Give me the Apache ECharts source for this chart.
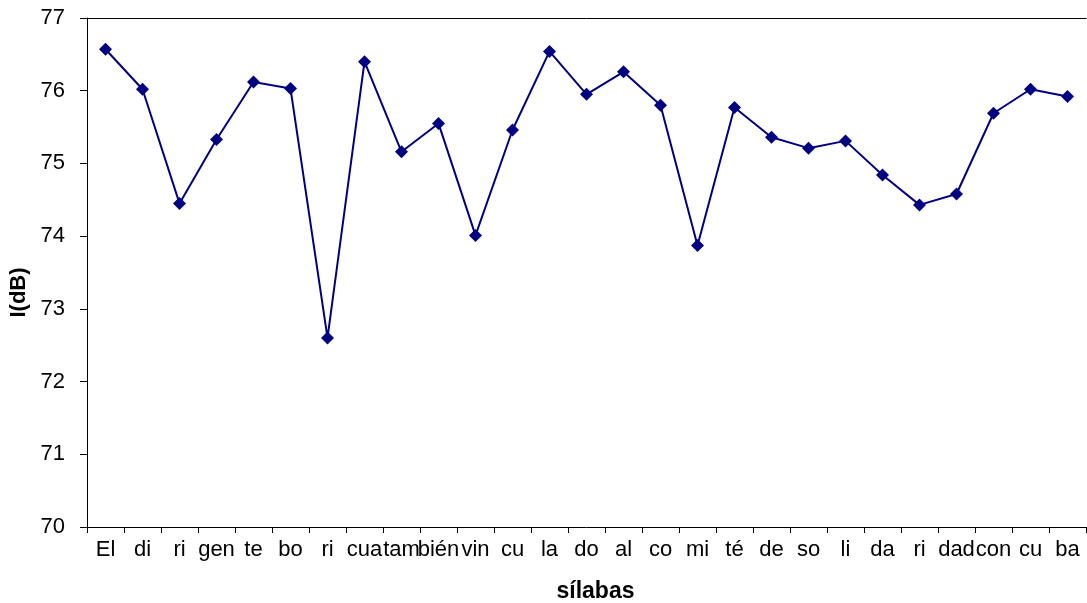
<!DOCTYPE html>
<html>
<head>
<meta charset="utf-8">
<script src="https://cdn.jsdelivr.net/npm/echarts@6.0.0/dist/echarts.min.js"></script>
<style>
  html, body { margin: 0; padding: 0; background: #fff; }
  #chart { width: 1087px; height: 603px; }
</style>
</head>
<body>
<div id="chart"></div>
<script>
// sílabas del enunciado
const silabas = ['El', 'di', 'ri', 'gen', 'te', 'bo', 'ri', 'cua', 'tam', 'bién', 'vin', 'cu', 'la', 'do',
  'al', 'co', 'mi', 'té', 'de', 'so', 'li', 'da', 'ri', 'dad', 'con', 'cu', 'ba'];

// intensidad en dB
const intensidad = [76.57, 76.02, 74.45, 75.33, 76.12, 76.03, 72.60, 76.40, 75.16, 75.55, 74.01, 75.46, 76.54, 75.95,
  76.26, 75.80, 73.87, 75.77, 75.36, 75.21, 75.31, 74.84, 74.43, 74.58, 75.69, 76.02, 75.92];

const yMin = 70;
const yMax = 77;

const chart = echarts.init(document.getElementById('chart'));

const axisLine = { show: true, lineStyle: { color: '#000', width: 1 } };
const font = 'Liberation Sans';

chart.setOption({
  animation: false,
  grid: { left: 87, right: 1, top: 18, bottom: 76, outerBoundsMode: 'none', containLabel: false },
  xAxis: [{
    type: 'category',
    data: silabas,
    boundaryGap: true,
    name: 'sílabas',
    nameLocation: 'middle',
    nameGap: 53,
    nameTextStyle: { fontFamily: font, fontSize: 23, fontWeight: 'bold', color: '#000', padding: [0, 0, 0, 18] },
    axisLine: axisLine,
    axisTick: { show: true, length: 6, inside: false, lineStyle: { color: '#000' } },
    axisLabel: { interval: 0, hideOverlap: false, margin: 12, fontFamily: font, fontSize: 22, color: '#000' },
    splitLine: { show: false }
  }, {
    // borde superior del área
    type: 'category',
    data: silabas,
    position: 'top',
    axisLine: axisLine,
    axisTick: { show: false },
    axisLabel: { show: false }
  }],
  yAxis: {
    type: 'value',
    min: yMin,
    max: yMax,
    interval: 1,
    name: 'I(dB)',
    nameLocation: 'middle',
    nameGap: 54,
    nameTextStyle: { fontFamily: font, fontSize: 22, fontWeight: 'bold', color: '#000', padding: [0, 40, 0, 0] },
    axisLine: axisLine,
    axisTick: { show: true, length: 7, lineStyle: { color: '#000' } },
    axisLabel: { margin: 22, fontFamily: font, fontSize: 22, color: '#000' },
    splitLine: { show: false }
  },
  series: [{
    type: 'line',
    data: intensidad,
    symbol: 'diamond',
    symbolSize: 13,
    lineStyle: { color: '#000080', width: 2 },
    itemStyle: { color: '#000080' }
  }]
});
</script>
</body>
</html>
